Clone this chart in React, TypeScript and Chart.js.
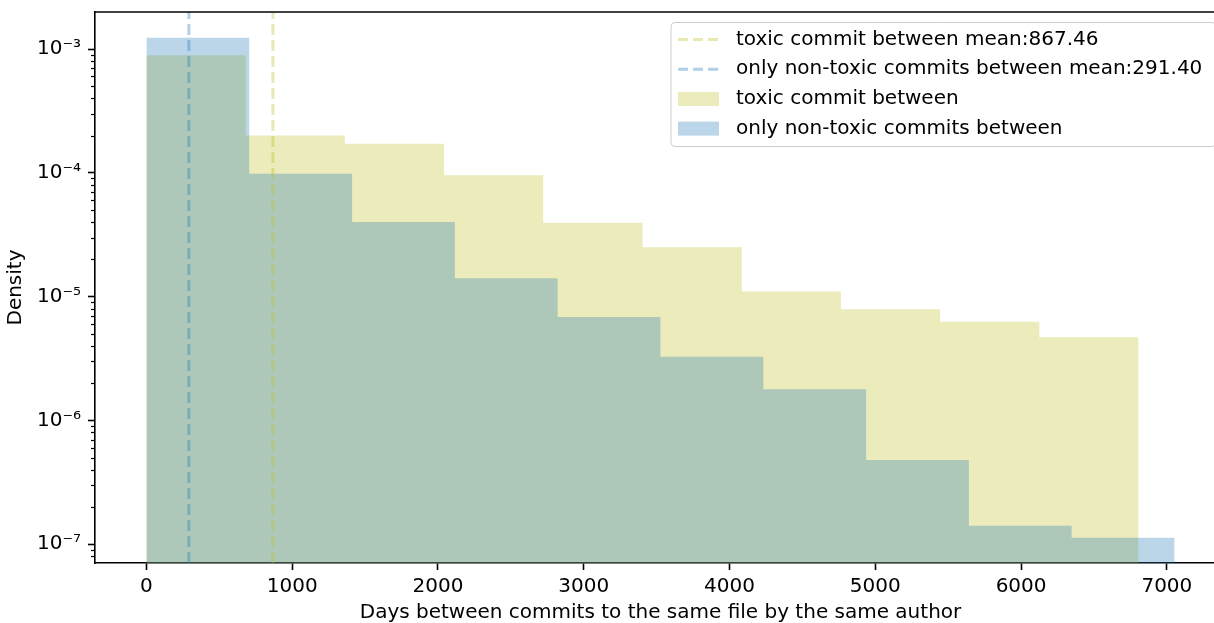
import React, { useEffect, useRef } from 'react';
import { Chart, registerables } from 'chart.js';

Chart.register(...registerables);

// ---- data ----
const toxicEdges = [0, 681, 1361, 2042, 2722, 3403, 4084, 4764, 5445, 6125, 6806];
const toxicDensity = [8.89e-4, 2.0e-4, 1.72e-4, 9.55e-5, 3.96e-5, 2.51e-5, 1.1e-5, 7.9e-6, 6.28e-6, 4.7e-6];
const nonToxicEdges = [0, 705, 1411, 2116, 2821, 3526, 4232, 4937, 5642, 6347, 7053];
const nonToxicDensity = [1.233e-3, 9.84e-5, 4.01e-5, 1.41e-5, 6.86e-6, 3.27e-6, 1.79e-6, 4.8e-7, 1.41e-7, 1.13e-7];
const toxicMean = 867.46;
const nonToxicMean = 291.4;

const toxicLabel = 'toxic commit between';
const nonToxicLabel = 'only non-toxic commits between';

const xTickValues = [0, 1000, 2000, 3000, 4000, 5000, 6000, 7000];
const xTickLabels = ['0', '1000', '2000', '3000', '4000', '5000', '6000', '7000'];
const yTickValues = [1e-7, 1e-6, 1e-5, 1e-4, 1e-3];
const yTickLabels = ['10⁻⁷', '10⁻⁶', '10⁻⁵', '10⁻⁴', '10⁻³'];
const yMinorMantissas = [2, 3, 4, 5, 6, 7, 8, 9];
const yMinorDecades = [1e-8, 1e-7, 1e-6, 1e-5, 1e-4, 1e-3];

const xMin = -352.65;
const xMax = 7405.65;
const yMin = 7.06e-8;
const yMax = 1.99e-3;

const toxicRGB = '188,189,34';
const nonToxicRGB = '31,119,180';
const lineAlpha = 0.35;
const fillAlpha = 0.3;
const FONT = 'DejaVu Sans';

const stepPoints = (edges: number[], vals: number[]) =>
  edges.map((x, i) => ({ x, y: vals[Math.min(i, vals.length - 1)] }));

const decorPlugin = {
  id: 'decor',
  afterDraw(chart: any) {
    const { ctx, chartArea: a, scales } = chart;
    const ys = scales.y;
    ctx.save();
    // top spine
    ctx.strokeStyle = '#000';
    ctx.lineWidth = 1.6;
    ctx.beginPath();
    ctx.moveTo(a.left - 0.8, a.top);
    ctx.lineTo(a.right + 0.8, a.top);
    ctx.stroke();
    // minor y ticks
    ctx.lineWidth = 1.2;
    for (const d of yMinorDecades) {
      for (const m of yMinorMantissas) {
        const v = d * m;
        if (v < ys.min || v > ys.max) continue;
        const py = Math.round(ys.getPixelForValue(v)) + 0.5;
        ctx.beginPath();
        ctx.moveTo(a.left - 4, py);
        ctx.lineTo(a.left, py);
        ctx.stroke();
      }
    }
    // legend
    const right = a.right - 10;
    const left = right - 545;
    const top = a.top + 10.5;
    const h = 124;
    const r = 4;
    ctx.beginPath();
    ctx.moveTo(left + r, top);
    ctx.lineTo(right - r, top);
    ctx.arcTo(right, top, right, top + r, r);
    ctx.lineTo(right, top + h - r);
    ctx.arcTo(right, top + h, right - r, top + h, r);
    ctx.lineTo(left + r, top + h);
    ctx.arcTo(left, top + h, left, top + h - r, r);
    ctx.lineTo(left, top + r);
    ctx.arcTo(left, top, left + r, top, r);
    ctx.closePath();
    ctx.fillStyle = 'rgba(255,255,255,0.8)';
    ctx.fill();
    ctx.strokeStyle = '#cccccc';
    ctx.lineWidth = 1;
    ctx.stroke();

    const items = [
      { kind: 'line', rgb: toxicRGB, text: `${toxicLabel} mean:${toxicMean.toFixed(2)}` },
      { kind: 'line', rgb: nonToxicRGB, text: `${nonToxicLabel} mean:${nonToxicMean.toFixed(2)}` },
      { kind: 'patch', rgb: toxicRGB, text: toxicLabel },
      { kind: 'patch', rgb: nonToxicRGB, text: nonToxicLabel },
    ];
    ctx.font = `20px "${FONT}"`;
    ctx.textBaseline = 'middle';
    ctx.textAlign = 'left';
    items.forEach((it, i) => {
      const cy = top + 17 + i * 29.7;
      const hx = left + 7;
      if (it.kind === 'line') {
        ctx.strokeStyle = `rgba(${it.rgb},${lineAlpha})`;
        ctx.lineWidth = 3;
        ctx.setLineDash([10, 5]);
        ctx.beginPath();
        ctx.moveTo(hx, cy);
        ctx.lineTo(hx + 41, cy);
        ctx.stroke();
        ctx.setLineDash([]);
      } else {
        ctx.fillStyle = `rgba(${it.rgb},${fillAlpha})`;
        ctx.fillRect(hx, cy - 7, 41, 14);
      }
      ctx.fillStyle = '#000';
      ctx.fillText(it.text, left + 65, cy);
    });
    ctx.restore();
  },
};

export default function App() {
  const canvasRef = useRef<HTMLCanvasElement | null>(null);

  useEffect(() => {
    const canvas = canvasRef.current;
    if (!canvas) return;
    Chart.defaults.font.family = FONT;
    Chart.defaults.font.size = 20;
    Chart.defaults.color = '#000';

    const chart = new Chart(canvas, {
      type: 'line',
      data: {
        datasets: [
          {
            label: `${toxicLabel} mean`,
            data: [{ x: toxicMean, y: yMin }, { x: toxicMean, y: yMax }],
            borderColor: `rgba(${toxicRGB},${lineAlpha})`,
            borderWidth: 3,
            borderDash: [11, 5],
            pointRadius: 0,
            fill: false,
          },
          {
            label: `${nonToxicLabel} mean`,
            data: [{ x: nonToxicMean, y: yMin }, { x: nonToxicMean, y: yMax }],
            borderColor: `rgba(${nonToxicRGB},${lineAlpha})`,
            borderWidth: 3,
            borderDash: [11, 5],
            pointRadius: 0,
            fill: false,
          },
          {
            label: nonToxicLabel,
            data: stepPoints(nonToxicEdges, nonToxicDensity),
            stepped: true,
            borderWidth: 0,
            borderColor: 'rgba(0,0,0,0)',
            backgroundColor: `rgba(${nonToxicRGB},${fillAlpha})`,
            pointRadius: 0,
            fill: 'start',
          },
          {
            label: toxicLabel,
            data: stepPoints(toxicEdges, toxicDensity),
            stepped: true,
            borderWidth: 0,
            borderColor: 'rgba(0,0,0,0)',
            backgroundColor: `rgba(${toxicRGB},${fillAlpha})`,
            pointRadius: 0,
            fill: 'start',
          },
        ],
      },
      options: {
        animation: false,
        responsive: false,
        devicePixelRatio: 1,
        events: [],
        layout: { padding: { top: 12, left: 0, right: 14, bottom: 0 } },
        plugins: {
          legend: { display: false },
          tooltip: { enabled: false },
          title: { display: false },
        },
        scales: {
          x: {
            type: 'linear',
            position: 'bottom',
            min: xMin,
            max: xMax,
            afterFit: (s: any) => {
              s.height = 60;
              s.paddingLeft = 0;
              s.paddingRight = 0;
            },
            afterBuildTicks: (s: any) => {
              s.ticks = xTickValues.map((v) => ({ value: v }));
            },
            ticks: {
              autoSkip: false,
              maxRotation: 0,
              padding: 5,
              color: '#000',
              font: { family: FONT, size: 20 },
              callback: (_v: any, i: number) => xTickLabels[i],
            },
            grid: {
              display: true,
              drawOnChartArea: false,
              drawTicks: true,
              tickLength: 7,
              tickWidth: 1.6,
              tickColor: '#000',
            },
            border: { display: true, color: '#000', width: 1.6 },
            title: {
              display: true,
              text: 'Days between commits to the same file by the same author',
              color: '#000',
              font: { family: FONT, size: 20 },
              padding: { top: 0, bottom: -2 },
            },
          },
          y: {
            type: 'logarithmic',
            position: 'left',
            min: yMin,
            max: yMax,
            afterFit: (s: any) => {
              s.width = 95;
              s.paddingTop = 0;
              s.paddingBottom = 0;
            },
            afterBuildTicks: (s: any) => {
              s.ticks = yTickValues.map((v) => ({ value: v, major: true }));
            },
            ticks: {
              autoSkip: false,
              padding: 7,
              color: '#000',
              font: { family: FONT, size: 20 },
              callback: (_v: any, i: number) => yTickLabels[i],
            },
            grid: {
              display: true,
              drawOnChartArea: false,
              drawTicks: true,
              tickLength: 7,
              tickWidth: 1.6,
              tickColor: '#000',
            },
            border: { display: true, color: '#000', width: 1.6 },
            title: {
              display: true,
              text: 'Density',
              color: '#000',
              font: { family: FONT, size: 20 },
              padding: { top: 3.5, bottom: 0 },
            },
          },
        },
      },
      plugins: [decorPlugin],
    } as any);

    return () => chart.destroy();
  }, []);

  return (
    <div style={{ position: 'absolute', left: 0, top: 0, width: 1214, height: 623, overflow: 'hidden', background: '#fff' }}>
      <canvas ref={canvasRef} width={1240} height={623} style={{ display: 'block' }} />
    </div>
  );
}
